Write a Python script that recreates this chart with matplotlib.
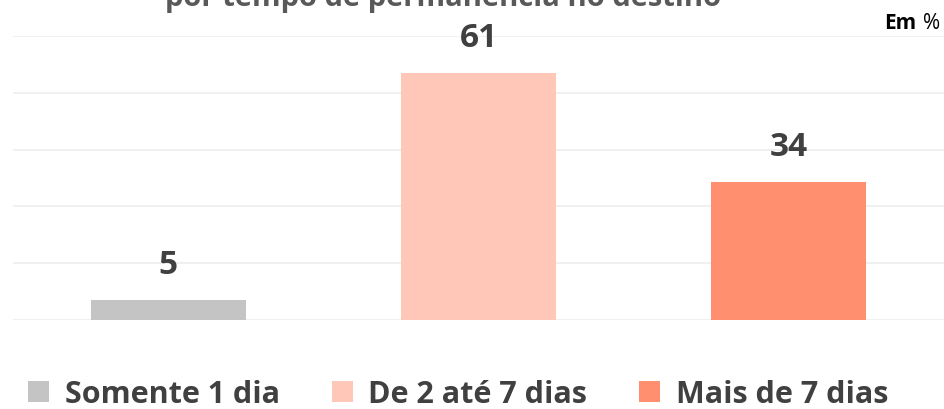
import matplotlib
matplotlib.use("Agg")
import matplotlib.pyplot as plt
from matplotlib.patches import Patch

categories = ["Somente 1 dia", "De 2 até 7 dias", "Mais de 7 dias"]
values = [5, 61, 34]
colors = ["#C4C4C4", "#FFC7B7", "#FF8F6E"]
title_text = "por tempo de permanência no destino"

plt.rcParams['font.family'] = ['Open Sans', 'DejaVu Sans']
W, H = 944, 410
fig = plt.figure(figsize=(W / 100, H / 100), dpi=100)
ax = fig.add_axes([13 / W, (H - 321) / H, (W - 13) / W, (321 - 37) / H])

x = range(len(categories))
bars = ax.bar(x, values, width=0.5, color=colors, zorder=3)
ax.set_xlim(-0.5, len(categories) - 0.5)
ax.set_ylim(0, 70)
ax.set_yticks(range(0, 71, 14))
ax.grid(axis='y', color='#EFEFEF', linewidth=1.3, zorder=0)
ax.tick_params(left=False, bottom=False, labelleft=False, labelbottom=False)
for s in ax.spines.values():
    s.set_visible(False)

for b, v in zip(bars, values):
    ax.annotate(str(v), (b.get_x() + b.get_width() / 2, v), xytext=(0, 13.5),
                textcoords='offset points', ha='center', va='bottom',
                fontsize=24, fontweight='bold', color='#404040')

# Title (cut off at the top of the image, as in the reference)
fig.text(443 / W, 1 - 6 / H, title_text, ha='center', va='baseline',
         fontsize=21, fontweight='bold', color='#595959')

# "Em %" unit note
fig.text(940 / W, 1 - 29 / H, "%", ha='right', va='baseline',
         fontsize=15, color='#000000')
fig.text(916 / W, 1 - 29 / H, "Em", ha='right', va='baseline',
         fontsize=15, fontweight='bold', color='#000000')

handles = [Patch(facecolor=c, edgecolor='none') for c in colors]
leg = fig.legend(handles, categories, loc='center', bbox_to_anchor=(458 / W, 1 - 395 / H),
                 ncol=3, frameon=False, fontsize=22, handlelength=0.7, handleheight=0.7,
                 handletextpad=0.5, columnspacing=1.7, borderpad=0)
for t in leg.get_texts():
    t.set_color('#404040')
    t.set_fontweight('bold')

fig.savefig("out.png", dpi=100)
